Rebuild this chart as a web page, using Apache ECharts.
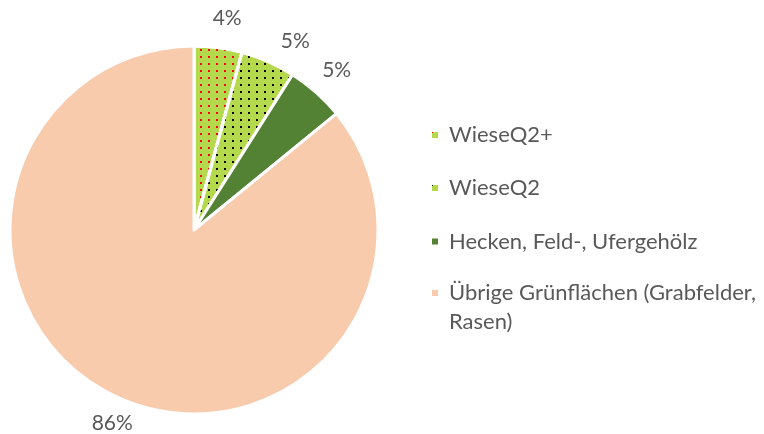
<!DOCTYPE html>
<html>
<head>
<meta charset="utf-8">
<script src="https://cdn.jsdelivr.net/npm/echarts@6/dist/echarts.min.js"></script>
<style>
  html, body { margin: 0; padding: 0; background: #fff; }
  #chart { width: 764px; height: 434px; }
</style>
</head>
<body>
<div id="chart"></div>
<script>
// Flächenanteile (in %)
const categories = ["WieseQ2+", "WieseQ2", "Hecken, Feld-, Ufergehölz", "Übrige Grünflächen (Grabfelder, Rasen)"];
const values = [4.2, 4.8, 5.1, 85.9];
const colors = ["#b5d94c", "#b5d94c", "#548235", "#f8cbad"];
// Punktraster für die Wiesen
const decalColors = ["#ff0000", "#000000", null, null];

const textColor = "#595959";
const fontFamily = "Lato, 'Liberation Sans', sans-serif";

const chart = echarts.init(document.getElementById("chart"));

const pieData = categories.map((name, i) => {
  const item = { name: name, value: values[i], itemStyle: { color: colors[i] } };
  if (decalColors[i]) {
    item.itemStyle.decal = {
      symbol: "rect",
      symbolSize: 1,
      color: decalColors[i],
      dashArrayX: [2, 6],
      dashArrayY: [2, 5],
      rotation: 0
    };
  }
  return item;
});

// eine Legende je Eintrag, damit der Abstand wie im Original ist
const legendTops = [120.5, 173.5, 227, 249.5];
const legends = categories.map((name, i) => {
  return {
    orient: "vertical",
    left: 430,
    top: legendTops[i],
    padding: 0,
    data: [name],
    selectedMode: false,
    itemWidth: 8,
    itemHeight: 8,
    icon: "rect",
    // leere erste Zeile, damit das Symbol auf Höhe der ersten Textzeile steht
    formatter: (n) => (n === categories[3] ? "\nÜbrige Grünflächen (Grabfelder,\nRasen)" : n),
    textStyle: {
      color: textColor,
      fontSize: 22,
      fontFamily: fontFamily,
      lineHeight: 29,
      padding: [0, 0, 0, 5]
    }
  };
});

const option = {
  backgroundColor: "#fff",
  animation: false,
  legend: legends,
  series: [
    {
      type: "pie",
      center: [194, 230],
      radius: 184,
      startAngle: 90,
      clockwise: true,
      percentPrecision: 0,
      data: pieData,
      itemStyle: {
        borderColor: "#ffffff",
        borderWidth: 3
      },
      label: {
        show: true,
        position: "outside",
        formatter: "{d}%",
        color: textColor,
        fontSize: 21,
        fontFamily: fontFamily
      },
      labelLine: {
        show: false,
        length: 30,
        length2: 0
      },
      // Beschriftung mittig über dem Endpunkt
      labelLayout: (params) => ({
        align: "center",
        dx: params.align === "left" ? 0 : 15
      }),
      emphasis: { disabled: true }
    }
  ]
};

chart.setOption(option);
</script>
</body>
</html>
